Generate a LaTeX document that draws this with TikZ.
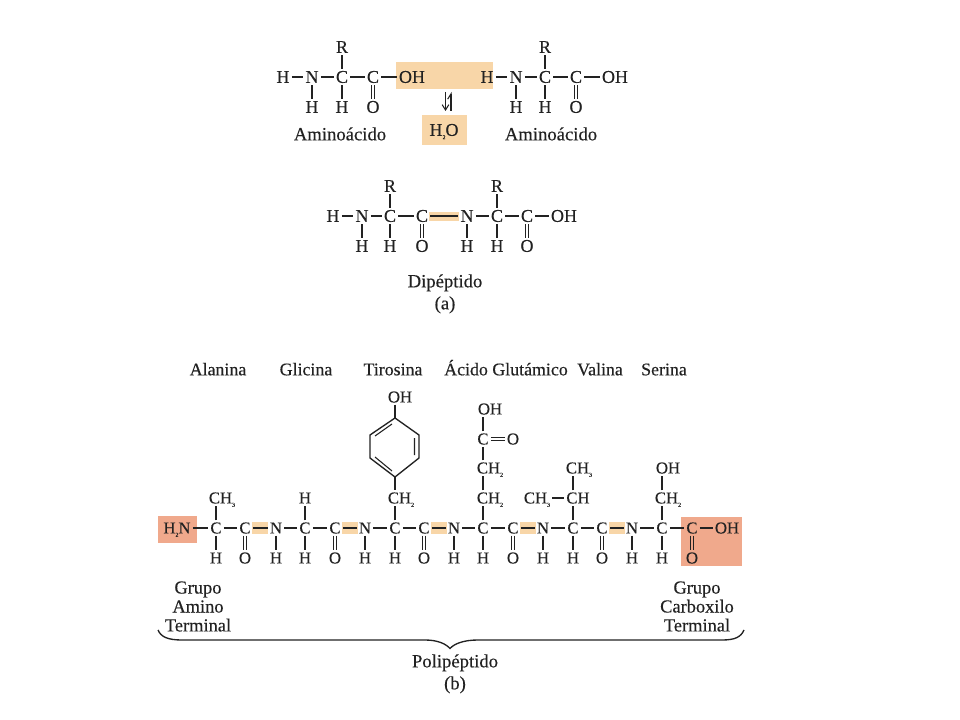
\documentclass[tikz,border=0pt]{standalone}
\usepackage{fontspec}
\setmainfont{Liberation Serif}
\newfontfamily\heavy[FakeBold=0.25]{Liberation Serif}
\usetikzlibrary{arrows.meta}
\definecolor{ink}{HTML}{222222}
\definecolor{peach}{HTML}{F8D6A8}
\definecolor{salmon}{HTML}{F0A98C}
\newcommand{\sbs}[1]{\raisebox{-2.5pt}{\fontsize{4.5}{5}\selectfont #1}}
\tikzset{x=0.75pt,y=-0.75pt,
 atomA/.style={inner sep=1.5pt,text=ink,text height=8.8pt,text depth=0pt,font=\heavy\fontsize{13.5}{15}\selectfont},
 atomB/.style={atomA,font=\heavy\fontsize{12.5}{14}\selectfont,text height=8.2pt},
 lab/.style={inner sep=0pt,text=ink,text height=9.5pt,text depth=0pt,font=\heavy\fontsize{14}{14.2}\selectfont},
 stacklab/.style={inner sep=0pt,text=ink,align=center,font=\heavy\fontsize{13.8}{14.2}\selectfont},
 namelab/.style={inner sep=0pt,text=ink,text height=9.5pt,text depth=0pt,font=\heavy\fontsize{13.4}{14}\selectfont},
 bond/.style={draw=ink,line width=0.8pt},
 pep/.style={draw=ink,line width=1.2pt},
 hiA/.style={fill=peach,inner sep=0pt},
 hiR/.style={fill=salmon,inner sep=0pt}
}
\newcommand{\hi}[6]{\node[#1,minimum width=#4*0.75pt,minimum height=#5*0.75pt] (#6) at (#2,#3) {};}
% vertical and horizontal double bonds between named nodes
\newcommand{\dblv}[2]{\draw[bond] ([xshift=-1.1pt]#1.south)--([xshift=-1.1pt]#2.north) ([xshift=1.1pt]#1.south)--([xshift=1.1pt]#2.north);}
\newcommand{\dblh}[2]{\draw[bond] ([yshift=-1.1pt]#1.east)--([yshift=-1.1pt]#2.west) ([yshift=1.1pt]#1.east)--([yshift=1.1pt]#2.west);}
\begin{document}
\begin{tikzpicture}
\useasboundingbox (0,0) rectangle (960,720);
\fill[white] (0,0) rectangle (960,720);
% highlights
\hi{hiA}{444.5}{75.5}{97}{27}{hA}
\hi{hiA}{444.5}{130}{45}{30}{hB}
\hi{hiA}{444}{216.5}{30}{9}{hC}
\hi{hiR}{177.5}{529.5}{39}{27}{hD}
\hi{hiR}{711.5}{541.5}{61}{49}{hE}
\hi{hiA}{260}{528}{16}{12}{p1}
\hi{hiA}{350}{528}{16}{12}{p2}
\hi{hiA}{439}{528}{16}{12}{p3}
\hi{hiA}{528}{528}{16}{12}{p4}
\hi{hiA}{617}{528}{16}{12}{p5}
% amino acids and dipeptide
\begin{scope}[every node/.style={atomA}]
\node (a1) at (283,77) {H}; \node (a2) at (312,77) {N}; \node (a3) at (342,77) {C};
\node (a4) at (373,77) {C}; \node (a5) at (412,77) {OH}; \node (a6) at (342,47) {R};
\node (a7) at (312,107) {H}; \node (a8) at (342,107) {H}; \node (a9) at (373,107) {O};
\node (b1) at (487,77) {H}; \node (b2) at (516,77) {N}; \node (b3) at (545,77) {C};
\node (b4) at (576,77) {C}; \node (b5) at (615,77) {OH}; \node (b6) at (545,47) {R};
\node (b7) at (516,107) {H}; \node (b8) at (545,107) {H}; \node (b9) at (576,107) {O};
\node (d1) at (333,216) {H}; \node (d2) at (362,216) {N}; \node (d3) at (390,216) {C};
\node (d4) at (422,216) {C}; \node (d5) at (467,216) {N}; \node (d6) at (497,216) {C};
\node (d7) at (527,216) {C}; \node (d8) at (564,216) {OH};
\node (d9) at (390,186) {R}; \node (d10) at (497,186) {R};
\node (d11) at (362,246) {H}; \node (d12) at (390,246) {H}; \node (d13) at (422,246) {O};
\node (d14) at (467,246) {H}; \node (d15) at (497,246) {H}; \node (d16) at (527,246) {O};
\end{scope}
\draw[bond] (a1)--(a2) (a2)--(a3) (a3)--(a4) (a4)--(a5) (a3)--(a6) (a2)--(a7) (a3)--(a8);
\dblv{a4}{a9}
\draw[bond] (b1)--(b2) (b2)--(b3) (b3)--(b4) (b4)--(b5) (b3)--(b6) (b2)--(b7) (b3)--(b8);
\dblv{b4}{b9}
\draw[bond] (d1)--(d2) (d2)--(d3) (d3)--(d4) (d5)--(d6) (d6)--(d7) (d7)--(d8) (d3)--(d9) (d6)--(d10) (d2)--(d11) (d3)--(d12) (d5)--(d14) (d6)--(d15);
\draw[pep] (d4)--(d5);
\dblv{d4}{d13} \dblv{d7}{d16}
% equilibrium arrows
\coordinate (e1) at (445.5,92); \coordinate (e2) at (445.5,111);
\coordinate (e3) at (451,111); \coordinate (e4) at (451,92);
\draw[bond,-{Straight Barb[length=4pt,width=5pt]}] (e1)--(e2);
\draw[bond,-{Straight Barb[harpoon,length=4pt,width=5pt]}] (e3)--(e4);
\node[atomA,inner sep=0pt] (w) at (444,130) {H\sbs{2}O};
\node[lab] (n1) at (340,134) {Aminoácido};
\node[lab] (n2) at (551,134) {Aminoácido};
\node[lab] (n3) at (445,281) {Dipéptido};
\node[lab] (n4) at (445,303) {(a)};
% names
\node[namelab] (m1) at (218,369) {Alanina};
\node[namelab] (m2) at (306,369) {Glicina};
\node[namelab] (m3) at (393,369) {Tirosina};
\node[namelab] (m4) at (506,369) {Ácido Glutámico};
\node[namelab] (m5) at (600,369) {Valina};
\node[namelab] (m6) at (664,369) {Serina};
% polypeptide backbone
\begin{scope}[every node/.style={atomB}]
\node (c0) at (177,528) {H\sbs{2}N};
\node (c1) at (216,528) {C}; \node (c2) at (245,528) {C}; \node (c3) at (276,528) {N};
\node (c4) at (305,528) {C}; \node (c5) at (335,528) {C}; \node (c6) at (365,528) {N};
\node (c7) at (395,528) {C}; \node (c8) at (424,528) {C}; \node (c9) at (454,528) {N};
\node (c10) at (483,528) {C}; \node (c11) at (513,528) {C}; \node (c12) at (543,528) {N};
\node (c13) at (573,528) {C}; \node (c14) at (602,528) {C}; \node (c15) at (632,528) {N};
\node (c16) at (662,528) {C}; \node (c17) at (692,528) {C}; \node (c18) at (727,528) {OH};
\node (l1) at (216,558) {H}; \node (l2) at (245,558) {O}; \node (l3) at (276,558) {H};
\node (l4) at (305,558) {H}; \node (l5) at (335,558) {O}; \node (l6) at (365,558) {H};
\node (l7) at (395,558) {H}; \node (l8) at (424,558) {O}; \node (l9) at (454,558) {H};
\node (l10) at (483,558) {H}; \node (l11) at (513,558) {O}; \node (l12) at (543,558) {H};
\node (l13) at (573,558) {H}; \node (l14) at (602,558) {O}; \node (l15) at (632,558) {H};
\node (l16) at (662,558) {H}; \node (l17) at (692,558) {O};
\node (u1) at (222,498) {CH\sbs{3}};
\node (u2) at (305,498) {H};
\node (u3) at (401,498) {CH\sbs{2}};
\node (u4) at (400,397) {OH};
\node (g1) at (490,468) {CH\sbs{2}}; \node (g2) at (490,498) {CH\sbs{2}};
\node (g3) at (483,439) {C}; \node (g4) at (513,439) {O}; \node (g5) at (490,409) {OH};
\node (v1) at (579,468) {CH\sbs{3}}; \node (v2) at (578,498) {CH}; \node (v3) at (537,498) {CH\sbs{3}};
\node (s1) at (668,468) {OH}; \node (s2) at (668,498) {CH\sbs{2}};
\end{scope}
\draw[bond] (c0)--(c1) (c1)--(c2) (c3)--(c4) (c4)--(c5) (c6)--(c7) (c7)--(c8) (c9)--(c10) (c10)--(c11) (c12)--(c13) (c13)--(c14) (c15)--(c16) (c16)--(c17) (c17)--(c18);
\draw[pep] (c2)--(c3) (c5)--(c6) (c8)--(c9) (c11)--(c12) (c14)--(c15);
\draw[bond] (c1)--(l1) (c3)--(l3) (c4)--(l4) (c6)--(l6) (c7)--(l7) (c9)--(l9) (c10)--(l10) (c12)--(l12) (c13)--(l13) (c15)--(l15) (c16)--(l16);
\dblv{c2}{l2} \dblv{c5}{l5} \dblv{c8}{l8} \dblv{c11}{l11} \dblv{c14}{l14} \dblv{c17}{l17}
\draw[bond] (c1)--(c1|-u1.south) (c4)--(u2) (c7)--(c7|-u3.south) (c10)--(c10|-g2.south) (c13)--(c13|-v2.south) (c16)--(c16|-s2.south);
\draw[bond] (c10|-g2.north)--(c10|-g1.south) (c10|-g1.north)--(g3) (g3)--(c10|-g5.south);
\dblh{g3}{g4}
\draw[bond] (c13|-v2.north)--(c13|-v1.south) (v3)--(v2);
\draw[bond] (c16|-s2.north)--(c16|-s1.south);
% ring
\coordinate (r1) at (395,418); \coordinate (r2) at (419,435); \coordinate (r3) at (419,458);
\coordinate (r4) at (395,477); \coordinate (r5) at (370,458); \coordinate (r6) at (370,435);
\draw[bond,line width=1pt] (r1)--(r2)--(r3)--(r4)--(r5)--(r6)--cycle;
\draw[bond] (c7|-u4.south)--(r1) (r4)--(c7|-u3.north);
\coordinate (i1) at (392,424); \coordinate (i2) at (375,436);
\coordinate (i3) at (414.5,438); \coordinate (i4) at (414.5,455);
\coordinate (i5) at (375,457); \coordinate (i6) at (392,471);
\draw[bond] (i1)--(i2) (i3)--(i4) (i5)--(i6);
% labels
\node[stacklab] (t1) at (198,606.5) {Grupo\\Amino\\Terminal};
\node[stacklab] (t2) at (697,606.5) {Grupo\\Carboxilo\\Terminal};
\node[lab] (t3) at (455,661) {Polipéptido};
\node[lab] (t4) at (455,683) {(b)};
\coordinate (bl) at (158,630); \coordinate (br) at (744,630); \coordinate (bt) at (450,648.5);
\draw[draw=ink,line width=1pt] (bl) .. controls (161,637) and (168,640) .. (182,640) -- (425,640) .. controls (438,640) and (446,644) .. (bt) .. controls (454,644) and (463,640) .. (478,640) -- (722,640) .. controls (735,640) and (741,637) .. (br);
\end{tikzpicture}
\end{document}
